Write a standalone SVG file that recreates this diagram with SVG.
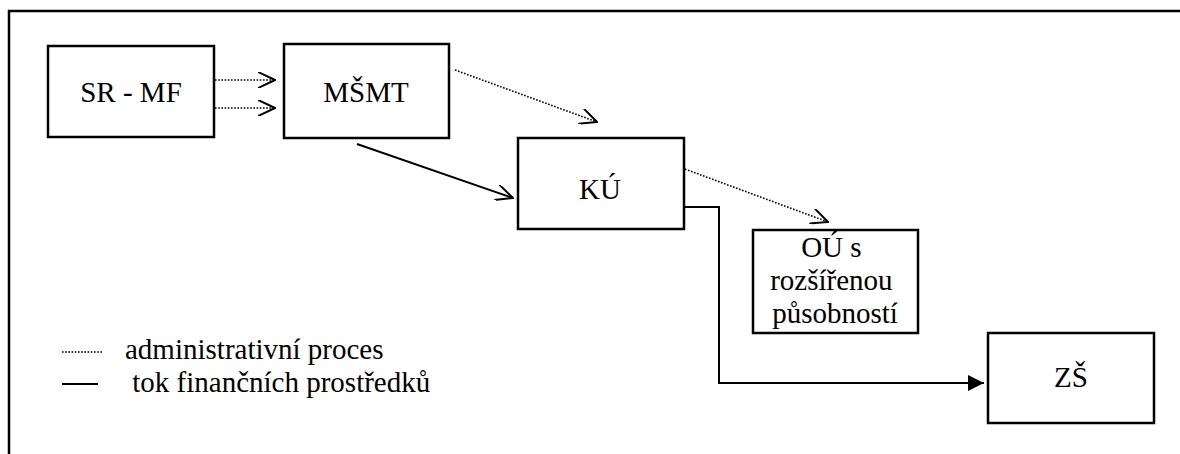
<svg xmlns="http://www.w3.org/2000/svg" width="1180" height="454" viewBox="0 0 1180 454">
  <style>
    .box { fill: #ffffff; stroke: #000000; stroke-width: 2.5; }
    .lbl { font-family: 'Liberation Serif', 'Times New Roman', serif; font-size: 29px; fill: #000000; }
    .admin { fill: none; stroke: #000000; stroke-width: 1.6; stroke-dasharray: 1.6 1.6; }
    .money { fill: none; stroke: #000000; stroke-width: 2; }
    .frame { fill: none; stroke: #000000; stroke-width: 2.5; }
  </style>
  <defs>
    <marker id="open" viewBox="0 0 18 16" refX="17" refY="8" markerWidth="18" markerHeight="16" markerUnits="userSpaceOnUse" orient="auto">
      <path d="M0,0 L17,8 L0,16" fill="none" stroke="#000000" stroke-width="2"/>
    </marker>
    <marker id="solid" viewBox="0 0 16 16" refX="16" refY="8" markerWidth="16" markerHeight="16" markerUnits="userSpaceOnUse" orient="auto">
      <path d="M0,0 L16,8 L0,16 Z" fill="#000000"/>
    </marker>
  </defs>

  <!-- page frame (top and left edges) -->
  <path class="frame" d="M9,454 V11 H1180"/>

  <!-- connectors -->
  <g id="connectors">
    <line class="admin" x1="215" y1="80" x2="275" y2="80" marker-end="url(#open)"/>
    <line class="admin" x1="215" y1="108" x2="275" y2="108" marker-end="url(#open)"/>
    <line class="admin" x1="455" y1="70" x2="597" y2="122" marker-end="url(#open)"/>
    <line class="money" x1="357" y1="144" x2="513" y2="198" marker-end="url(#open)"/>
    <line class="admin" x1="682" y1="168" x2="828" y2="222" marker-end="url(#open)"/>
    <path class="money" d="M683,207 H719 V383 H984" marker-end="url(#solid)"/>
  </g>

  <!-- nodes -->
  <g id="sr-mf">
    <rect class="box" x="48" y="46" width="166" height="91"/>
    <text class="lbl" x="131" y="102" text-anchor="middle">SR - MF</text>
  </g>
  <g id="msmt">
    <rect class="box" x="284" y="44" width="165" height="94"/>
    <text class="lbl" x="366" y="102" text-anchor="middle">MŠMT</text>
  </g>
  <g id="ku">
    <rect class="box" x="518" y="138" width="166" height="91"/>
    <text class="lbl" x="600" y="199" text-anchor="middle">KÚ</text>
  </g>
  <g id="ou">
    <rect class="box" x="753" y="230" width="165" height="103"/>
    <text class="lbl" text-anchor="middle">
      <tspan x="835" y="257">OÚ s</tspan>
      <tspan x="835" y="290">rozšířenou</tspan>
      <tspan x="835" y="323">působností</tspan>
    </text>
  </g>
  <g id="zs">
    <rect class="box" x="988" y="333" width="166" height="90"/>
    <text class="lbl" x="1071" y="387" text-anchor="middle">ZŠ</text>
  </g>

  <!-- legend -->
  <g id="legend">
    <line class="admin" x1="62" y1="352" x2="102" y2="352" stroke-width="1"/>
    <line class="money" x1="62" y1="384" x2="98" y2="384"/>
    <text class="lbl" x="125" y="359" xml:space="preserve">administrativní proces</text>
    <text class="lbl" x="125" y="392" xml:space="preserve"> tok finančních prostředků</text>
  </g>
</svg>
